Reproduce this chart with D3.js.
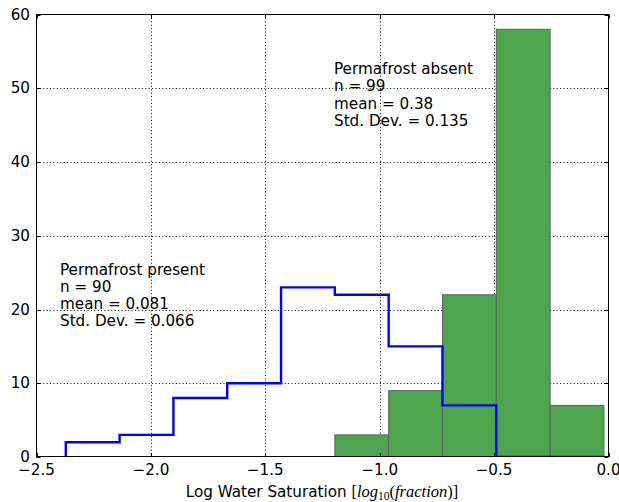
<!DOCTYPE html>
<html>
<head>
<meta charset="utf-8">
<script src="https://cdn.jsdelivr.net/npm/d3@7"></script>
<style>
html,body{margin:0;padding:0;background:#fff;}
svg{display:block;}
text{font-family:"DejaVu Sans",sans-serif;}
</style>
</head>
<body>
<svg id="chart" width="619" height="502"></svg>
<script>
// ---- data ----
const binStart = -2.372;
const binEnd = -0.020;
const presentCounts = [2, 3, 8, 10, 23, 22, 15, 7, 0, 0];
const absentCounts  = [0, 0, 0, 0, 0, 3, 9, 22, 58, 7];
const xTicks = [-2.5, -2.0, -1.5, -1.0, -0.5, 0.0];
const yTicks = [0, 10, 20, 30, 40, 50, 60];
const absentText = ["Permafrost absent", "n = 99", "mean = 0.38", "Std. Dev. = 0.135"];
const presentText = ["Permafrost present", "n = 90", "mean = 0.081", "Std. Dev. = 0.066"];

// ---- layout ----
const L = 36.5, R = 608.5, T = 14.5, B = 457;
const FS = 15.2;
const svg = d3.select("#chart");
const x = d3.scaleLinear().domain([-2.5, 0]).range([L, R]);
const y = d3.scaleLinear().domain([0, 60]).range([B, T]);

const nb = presentCounts.length;
const w = (binEnd - binStart) / nb;
const edges = d3.range(nb + 1).map(i => binStart + i * w);

svg.append("defs").append("clipPath").attr("id", "clip")
  .append("rect").attr("x", L).attr("y", T).attr("width", R - L).attr("height", B - T);

const fmt = v => (v < 0 ? "\u2212" : "") + Math.abs(v).toFixed(1);

// grid
const grid = svg.append("g").attr("stroke", "#000").attr("stroke-width", 1)
  .attr("stroke-dasharray", "1,2.4").attr("fill", "none");
xTicks.slice(1, -1).forEach(t => {
  grid.append("line").attr("x1", Math.round(x(t)) + 0.5).attr("x2", Math.round(x(t)) + 0.5)
    .attr("y1", T).attr("y2", B);
});
yTicks.slice(1, -1).forEach(t => {
  grid.append("line").attr("y1", Math.round(y(t)) + 0.5).attr("y2", Math.round(y(t)) + 0.5)
    .attr("x1", L).attr("x2", R);
});

const plot = svg.append("g").attr("clip-path", "url(#clip)");

// green bars (permafrost absent)
plot.selectAll("rect.bar").data(absentCounts.map((c, i) => ({c, i})).filter(d => d.c > 0))
  .enter().append("rect")
  .attr("x", d => x(edges[d.i]))
  .attr("width", d => x(edges[d.i + 1]) - x(edges[d.i]))
  .attr("y", d => y(d.c))
  .attr("height", d => y(0) - y(d.c))
  .attr("fill", "#4da64d")
  .attr("stroke", "#606060")
  .attr("stroke-width", 1);

// blue step (permafrost present)
const pts = [[edges[0], 0]];
presentCounts.forEach((c, i) => { pts.push([edges[i], c]); pts.push([edges[i + 1], c]); });
pts.push([edges[nb], 0]);
plot.append("path")
  .attr("d", d3.line().x(d => x(d[0])).y(d => y(d[1]))(pts))
  .attr("fill", "none").attr("stroke", "#0000ff").attr("stroke-width", 2.4)
  .attr("stroke-linejoin", "miter");

// spines
svg.append("rect").attr("x", L).attr("y", T).attr("width", R - L).attr("height", B - T - 0.5)
  .attr("fill", "none").attr("stroke", "#000").attr("stroke-width", 1);

// ticks (inside, all sides)
const tk = svg.append("g").attr("stroke", "#000").attr("stroke-width", 1);
xTicks.forEach(t => {
  const px = Math.round(x(t)) + 0.5;
  tk.append("line").attr("x1", px).attr("x2", px).attr("y1", B).attr("y2", B - 4);
  tk.append("line").attr("x1", px).attr("x2", px).attr("y1", T).attr("y2", T + 4);
});
yTicks.forEach(t => {
  const py = Math.round(y(t)) + 0.5;
  tk.append("line").attr("x1", L).attr("x2", L + 4).attr("y1", py).attr("y2", py);
  tk.append("line").attr("x1", R).attr("x2", R - 4).attr("y1", py).attr("y2", py);
});

// tick labels
svg.append("g").selectAll("text").data(xTicks).enter().append("text")
  .attr("x", d => x(d)).attr("y", 475).attr("text-anchor", "middle")
  .attr("font-size", FS).text(fmt);
svg.append("g").selectAll("text").data(yTicks).enter().append("text")
  .attr("x", 30).attr("y", d => y(d) + 5).attr("text-anchor", "end")
  .attr("font-size", FS).text(d => d);

// annotations
const ann1 = svg.append("text").attr("font-size", FS);
absentText.forEach((s, i) => ann1.append("tspan").attr("x", 334).attr("y", 73.5 + i * 17.5).text(s));
const ann2 = svg.append("text").attr("font-size", FS);
presentText.forEach((s, i) => ann2.append("tspan").attr("x", 60).attr("y", 274.5 + i * 17.2).text(s));

// x label
const xl = svg.append("text").attr("x", 322).attr("y", 497).attr("text-anchor", "middle")
  .attr("font-size", FS);
xl.append("tspan").text("Log Water Saturation ");
const m = 'font-family:"Liberation Serif",serif;';
xl.append("tspan").attr("style", m).attr("font-size", 16.5).text("[");
xl.append("tspan").attr("style", m + "font-style:italic;").attr("font-size", 16.5).text("log");
xl.append("tspan").attr("style", m).attr("font-size", 11.5).attr("dy", 3).text("10");
xl.append("tspan").attr("style", m).attr("font-size", 16.5).attr("dy", -3).text("(");
xl.append("tspan").attr("style", m + "font-style:italic;").attr("font-size", 16.5).text("fraction");
xl.append("tspan").attr("style", m).attr("font-size", 16.5).text(")]");
</script>
</body>
</html>
